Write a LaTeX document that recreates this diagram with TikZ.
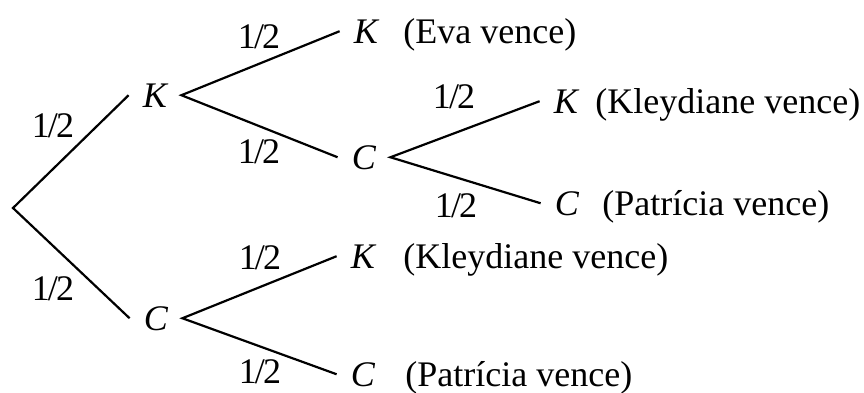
\documentclass[tikz,border=0pt]{standalone}
\usepackage{fontspec}
\setmainfont{Liberation Serif}
\begin{document}
\begin{tikzpicture}[
    x=0.5pt,
    y=-0.5pt,
    branch/.style={draw=black, line width=1.1pt},
    outcome/.style={font=\fontsize{18}{22}\selectfont\itshape, inner xsep=7pt, inner ysep=0pt, anchor=base},
    prob label/.style={font=\fontsize{18}{22}\selectfont, inner sep=0pt, anchor=base},
    result label/.style={font=\fontsize{18}{22}\selectfont, inner sep=0pt, anchor=base west}
]

\newcommand{\half}{1\kern-0.05em/\kern-0.05em2}

\useasboundingbox (0,0) rectangle (864,392);

% Root of the tree.
\coordinate (root) at (13,208);

% First draw.
\node[outcome] (k1) at (155,107) {K};
\node[outcome] (c2) at (156,330) {C};

% Second draw.
\node[outcome] (kk) at (366,43) {K};
\node[outcome] (c1) at (364,169) {C};
\node[outcome] (c2k) at (363,268) {K};
\node[outcome] (c2c) at (363,386) {C};

% Third draw after K, C.
\node[outcome] (c1k) at (566,113) {K};
\node[outcome] (c1c) at (567,215) {C};

% Branches.
\draw[branch] (k1.west) -- (root) -- (c2.west);
\draw[branch] (kk.west) -- (k1.east) -- (c1.west);
\draw[branch] (c1k.west) -- (c1.east) -- (c1c.west);
\draw[branch] (c2k.west) -- (c2.east) -- (c2c.west);

% Probabilities.
\node[prob label] (p1) at (53,137) {\half};
\node[prob label] (p2) at (53,300) {\half};
\node[prob label] (p3) at (259,48) {\half};
\node[prob label] (p4) at (259,163) {\half};
\node[prob label] (p5) at (454,108) {\half};
\node[prob label] (p6) at (456,217) {\half};
\node[prob label] (p7) at (260,269) {\half};
\node[prob label] (p8) at (260,383) {\half};

% Who wins.
\node[result label] (r1) at (403,43) {(Eva vence)};
\node[result label] (r2) at (595,113) {(Kleydiane vence)};
\node[result label] (r3) at (602,215) {(Patrícia vence)};
\node[result label] (r4) at (403,268) {(Kleydiane vence)};
\node[result label] (r5) at (405,386) {(Patrícia vence)};

\end{tikzpicture}
\end{document}
